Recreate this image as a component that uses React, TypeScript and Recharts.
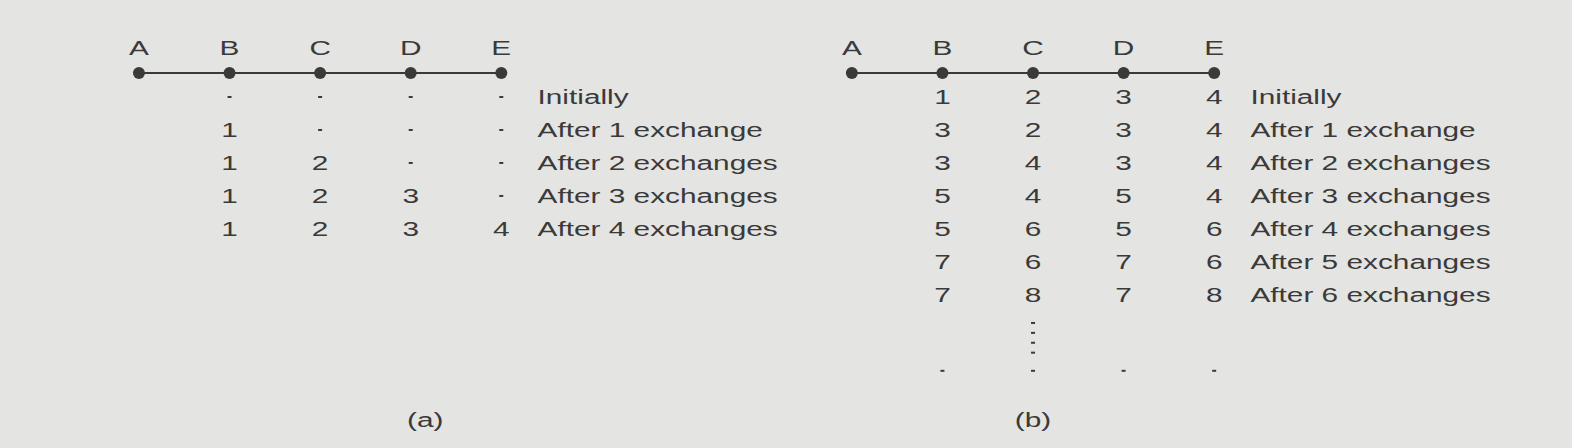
import { ScatterChart, Scatter, XAxis, YAxis } from 'recharts';

const nodes = ['A', 'B', 'C', 'D', 'E'];
const rowLabelsA = ['Initially', 'After 1 exchange', 'After 2 exchanges', 'After 3 exchanges', 'After 4 exchanges'];
const rowLabelsB = [...rowLabelsA, 'After 5 exchanges', 'After 6 exchanges'];
// null = unknown (drawn as a dot)
const tableA: (number | null)[][] = [
  [null, null, null, null],
  [1, null, null, null],
  [1, 2, null, null],
  [1, 2, 3, null],
  [1, 2, 3, 4],
];
const tableB: (number | null)[][] = [
  [1, 2, 3, 4],
  [3, 2, 3, 4],
  [3, 4, 3, 4],
  [5, 4, 5, 4],
  [5, 6, 5, 6],
  [7, 6, 7, 6],
  [7, 8, 7, 8],
];
const panels = [
  { offset: 0, table: tableA, labels: rowLabelsA, caption: '(a)', captionCol: 3.16, more: false },
  { offset: 7.87, table: tableB, labels: rowLabelsB, caption: '(b)', captionCol: 2, more: true },
];

const INK = '#3a3a3a';
const FONT = 'Arimo, "Liberation Sans", Arial, sans-serif';

type P = { x: number; y: number; t: string; kind: string };

const nodePts: P[][] = panels.map((p) =>
  nodes.map((n, i) => ({ x: p.offset + i, y: -0.73, t: n, kind: 'node' }))
);
const textPts: P[] = [];
panels.forEach((p) => {
  nodes.forEach((n, i) => textPts.push({ x: p.offset + i, y: -1.48, t: n, kind: 'num' }));
  p.table.forEach((row, r) => {
    row.forEach((v, c) =>
      textPts.push({ x: p.offset + c + 1, y: r, t: v == null ? '' : String(v), kind: v == null ? 'dot' : 'num' })
    );
    textPts.push({ x: p.offset + 4.4, y: r, t: p.labels[r], kind: 'label' });
  });
  if (p.more) {
    [6.85, 7.15, 7.45, 7.75].forEach((y) => textPts.push({ x: p.offset + 2, y, t: '', kind: 'dot' }));
    [1, 2, 3, 4].forEach((c) => textPts.push({ x: p.offset + c, y: 8.3, t: '', kind: 'dot' }));
  }
  textPts.push({ x: p.offset + p.captionCol, y: 9.8, t: p.caption, kind: 'num' });
});

const TextShape = (props: any) => {
  const { cx, cy, payload } = props;
  if (payload.kind === 'dot') return <rect x={cx - 2} y={cy - 1} width={4} height={2} fill={INK} />;
  return (
    <text transform={`translate(${cx},${cy}) scale(1.42,1)`} dy={7}
      textAnchor={payload.kind === 'label' ? 'start' : 'middle'}
      fontSize={21} fontFamily={FONT} fill={INK}>{payload.t}</text>
  );
};

export default function App() {
  return (
    <div style={{ position: 'fixed', left: 0, top: 0, width: 1572, height: 448, background: '#e4e4e2' }}>
      <ScatterChart width={1572} height={448} margin={{ top: 0, right: 0, bottom: 0, left: 0 }}>
        <XAxis type="number" dataKey="x" domain={[-1.534, 15.82]} hide allowDataOverflow />
        <YAxis type="number" dataKey="y" domain={[-2.94, 10.64]} reversed hide allowDataOverflow />
        {nodePts.map((d, i) => (
          <Scatter key={i} data={d} line={{ stroke: INK, strokeWidth: 2 }} fill={INK}
            shape={(pr: any) => <circle cx={pr.cx} cy={pr.cy} r={6} fill={INK} />} isAnimationActive={false} />
        ))}
        <Scatter data={textPts} shape={TextShape} isAnimationActive={false} />
      </ScatterChart>
    </div>
  );
}
